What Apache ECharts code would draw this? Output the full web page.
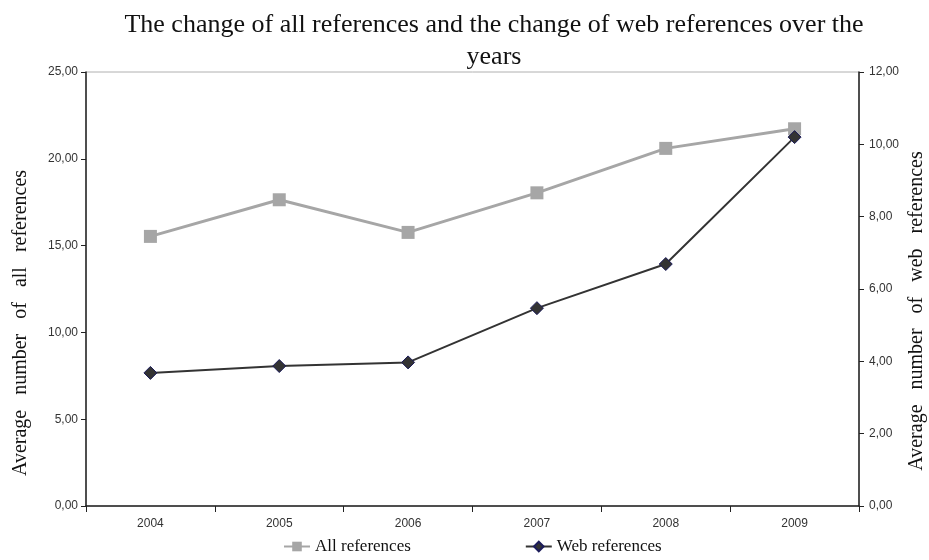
<!DOCTYPE html>
<html><head><meta charset="utf-8">
<script src="https://cdn.jsdelivr.net/npm/echarts@6/dist/echarts.min.js"></script>
<style>html,body{margin:0;padding:0;background:#fff}#c{width:929px;height:560px}</style>
</head><body><div id="c"></div>
<script>
var years = ['2004','2005','2006','2007','2008','2009'];
var allRefs = [15.53, 17.64, 15.76, 18.04, 20.6, 21.73];
var webRefs = [3.68, 3.87, 3.97, 5.47, 6.69, 10.2];
var titleText = 'The change of all references and the change of web references over the\nyears';
var leftName = 'Average   number   of   all   references';
var rightName = 'Average   number   of   web   references';
function fmt(v){ return v.toFixed(2).replace('.', ','); }
var chart = echarts.init(document.getElementById('c'));
var nameStyle = {fontFamily:'Liberation Serif',fontSize:20,fill:'#111',align:'center',verticalAlign:'middle'};
chart.setOption({
  animation:false,
  backgroundColor:'#fff',
  title:{text:titleText,left:489,textAlign:'center',top:4,textStyle:{fontFamily:'Liberation Serif',fontSize:26,fontWeight:'normal',color:'#111',lineHeight:32}},
  grid:{left:86,right:70,top:72,bottom:54,show:true,borderColor:'#b0b0b0',borderWidth:1,outerBoundsMode:'none',containLabel:false},
  legend:{bottom:0,left:278,itemGap:114,itemWidth:26,itemHeight:12,
    textStyle:{fontFamily:'Liberation Serif',fontSize:17,color:'#111'},
    data:['All references','Web references']},
  graphic:[
    {type:'text',x:21,y:323,rotation:Math.PI/2,style:Object.assign({text:leftName},nameStyle)},
    {type:'text',x:917,y:311,rotation:Math.PI/2,style:Object.assign({text:rightName},nameStyle)}
  ],
  xAxis:{type:'category',data:years,boundaryGap:true,
    axisLine:{lineStyle:{color:'#222',width:1.5}},
    axisTick:{show:true,length:6,lineStyle:{color:'#222'}},
    axisLabel:{fontFamily:'Liberation Sans',fontSize:12,color:'#333',margin:12},
    splitLine:{show:false}},
  yAxis:[
    {type:'value',min:0,max:25,interval:5,position:'left',
     axisLine:{show:true,lineStyle:{color:'#222',width:1.5}},
     axisTick:{show:true,length:5,lineStyle:{color:'#222'}},
     axisLabel:{formatter:fmt,fontFamily:'Liberation Sans',fontSize:12,color:'#333',margin:8},
     splitLine:{show:false}},
    {type:'value',min:0,max:12,interval:2,position:'right',
     axisLine:{show:true,lineStyle:{color:'#222',width:1.5}},
     axisTick:{show:true,length:5,lineStyle:{color:'#222'}},
     axisLabel:{formatter:fmt,fontFamily:'Liberation Sans',fontSize:12,color:'#333',margin:10},
     splitLine:{show:false}}
  ],
  series:[
    {name:'All references',type:'line',yAxisIndex:0,data:allRefs,
     symbol:'rect',symbolSize:13,
     lineStyle:{color:'#a6a6a6',width:3},
     itemStyle:{color:'#a6a6a6'}},
    {name:'Web references',type:'line',yAxisIndex:1,data:webRefs,
     symbol:'diamond',symbolSize:13,
     lineStyle:{color:'#333333',width:2},
     itemStyle:{color:'#333333',borderColor:'#1c1c5a',borderWidth:1}}
  ]
});
</script></body></html>
